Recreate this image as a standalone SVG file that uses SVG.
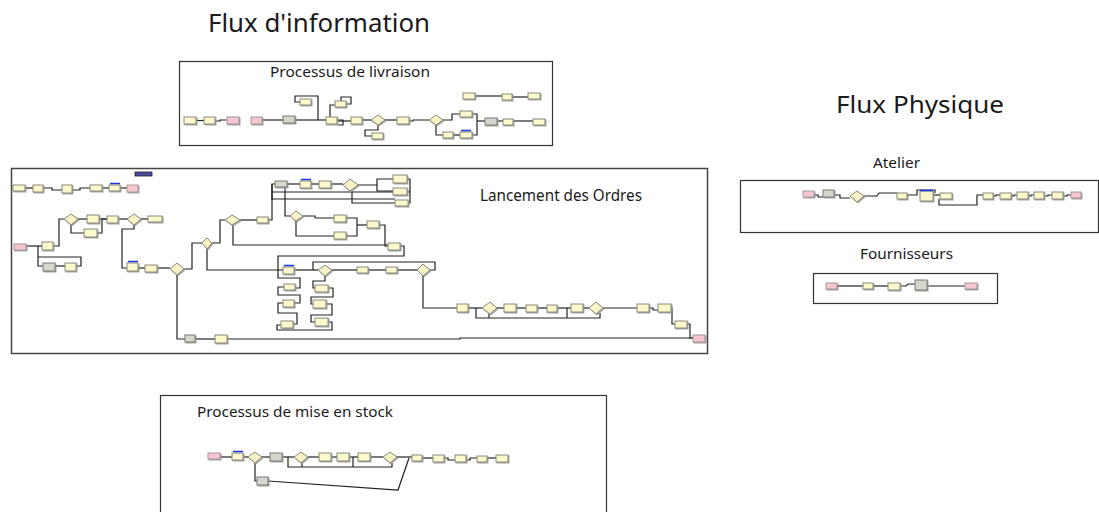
<svg xmlns="http://www.w3.org/2000/svg" width="1099" height="512" viewBox="0 0 1099 512">
<defs>
<filter id="sh" x="-30%" y="-30%" width="160%" height="160%"><feDropShadow dx="1" dy="1" stdDeviation="0.4" flood-color="#999" flood-opacity="0.9"/></filter>
</defs>
<style>
.box{fill:none;stroke:#333;stroke-width:1.2}
.n{fill:#fbf9cc;stroke:#8a8a7c;stroke-width:1;filter:url(#sh)}
.g{fill:#d6d6cc;stroke:#7a7a72;stroke-width:1;filter:url(#sh)}
.p{fill:#f7c6cf;stroke:#a09a9a;stroke-width:1;filter:url(#sh)}
.d{fill:#f7f3c6;stroke:#8a8a7c;stroke-width:1;filter:url(#sh)}
.b{stroke:#1a3adc;stroke-width:1.5}
.c path{fill:none;stroke:#222;stroke-width:1.2}
.t{font-family:"Noto Sans","Open Sans","DejaVu Sans",sans-serif;fill:#1a1a1a}
</style>
<rect width="1099" height="512" fill="#fff"/>

<g id="titles">
<text class="t" x="208" y="32" font-size="26" textLength="222" lengthAdjust="spacingAndGlyphs">Flux d'information</text>
<text class="t" x="836" y="113" font-size="24" textLength="168" lengthAdjust="spacingAndGlyphs">Flux Physique</text>
</g>

<g id="frames">
<g id="frame-livraison"><rect class="box" x="179.5" y="61.5" width="373" height="84"/><text class="t" x="270" y="77" font-size="15" textLength="160" lengthAdjust="spacingAndGlyphs">Processus de livraison</text></g>
<g id="frame-lancement"><rect class="box" x="11.5" y="168.5" width="696" height="185" style="stroke:#444;stroke-width:1.5"/><text class="t" x="480" y="201" font-size="16" textLength="162" lengthAdjust="spacingAndGlyphs">Lancement des Ordres</text></g>
<g id="frame-atelier"><rect class="box" x="740.5" y="180.5" width="358" height="52"/><text class="t" x="873" y="168" font-size="15" textLength="47" lengthAdjust="spacingAndGlyphs">Atelier</text></g>
<g id="frame-fournisseurs"><rect class="box" x="813.5" y="273.5" width="184" height="30"/><text class="t" x="860" y="259" font-size="15" textLength="93" lengthAdjust="spacingAndGlyphs">Fournisseurs</text></g>
<g id="frame-stock"><rect class="box" x="160.5" y="395.5" width="446" height="130"/><text class="t" x="197" y="417" font-size="15" textLength="196" lengthAdjust="spacingAndGlyphs">Processus de mise en stock</text></g>
</g>

<g id="connectors" class="c">
<path d="M196,120.5 H204"/>
<path d="M215,121 H220 V120 H227"/>
<path d="M262,120 H283"/>
<path d="M295,120 H326"/>
<path d="M318,120 V96 H295 V102 H300"/>
<path d="M330,117 V105 H335"/>
<path d="M346,104 H351 V97 H341 V101"/>
<path d="M337,120 H343 V125 H338"/>
<path d="M337,121 H351"/>
<path d="M362,120 H371"/>
<path d="M378,125 V130 H365 V136 H372"/>
<path d="M385,120 H397"/>
<path d="M409,121 H413 V120 H429"/>
<path d="M443,120 H452 V114 H460"/>
<path d="M472,114 H477 V135 H472"/>
<path d="M436,125 V135 H443"/>
<path d="M453,135 H460"/>
<path d="M477,121 H485"/>
<path d="M497,121 H503"/>
<path d="M513,121 H533"/>
<path d="M475,96 H502"/>
<path d="M512,97 H528"/>
<path d="M25,188 H33"/>
<path d="M43,188 H52 V190 H62"/>
<path d="M72,190 H80 V188 H90"/>
<path d="M102,188 H109"/>
<path d="M120,188 H127"/>
<path d="M26,246 H42"/>
<path d="M53,246 H59 V219 H64"/>
<path d="M78,219 H87"/>
<path d="M71,225 V233 H84"/>
<path d="M97,233 H102 V219 H107"/>
<path d="M99,219 H107"/>
<path d="M118,219 H127"/>
<path d="M141,219 H148"/>
<path d="M38,246 V266 H43"/>
<path d="M55,266 H65"/>
<path d="M76,266 H81 V257 H38"/>
<path d="M134,225 V229 H122 V268 H127"/>
<path d="M138,268 H145"/>
<path d="M157,268 H170"/>
<path d="M184,269 H192 V243 H202"/>
<path d="M212,243 H220 V220 H225"/>
<path d="M240,220 H257"/>
<path d="M268,220 H272 V184 H275"/>
<path d="M287,184 H300"/>
<path d="M311,184 H319"/>
<path d="M331,184 H343"/>
<path d="M358,185 H377 V179 H393"/>
<path d="M377,185 V191 H393"/>
<path d="M352,191 V203 H395"/>
<path d="M272,184 V200"/>
<path d="M272,192 H410"/>
<path d="M272,199 H395"/>
<path d="M407,179 H410 V203 H408"/>
<path d="M285,187 V216 H290"/>
<path d="M303,216 H315 V218 H334"/>
<path d="M296,221 V236 H334"/>
<path d="M346,218 H357 V236 H346"/>
<path d="M357,225 H367"/>
<path d="M379,225 H385 V246 H388"/>
<path d="M233,225 V245 H388"/>
<path d="M400,246 H404 V256 H278 V278 H300 V288 H295"/>
<path d="M284,287 H278 V295 H300 V303 H294"/>
<path d="M283,303 H278 V313 H297 V324 H293"/>
<path d="M281,325 H277 V330 H332 V322 H328"/>
<path d="M207,249 V270 H283"/>
<path d="M294,270 H318"/>
<path d="M332,270 H357"/>
<path d="M368,270 H386"/>
<path d="M397,270 H417"/>
<path d="M430,270 H435 V262 H313 V270"/>
<path d="M325,276 V281 H313 V288 H315"/>
<path d="M328,288 H333 V297 H311 V304 H313"/>
<path d="M326,304 H332 V315 H311 V322 H315"/>
<path d="M423,276 V308 H457"/>
<path d="M468,308 H482"/>
<path d="M497,308 H504"/>
<path d="M516,308 H526"/>
<path d="M537,308 H547"/>
<path d="M557,308 H571"/>
<path d="M583,308 H589"/>
<path d="M603,308 H637"/>
<path d="M649,308 H653 V310 H658"/>
<path d="M671,308 H672 V324 H675"/>
<path d="M687,324 H690 V338 H693"/>
<path d="M476,308 V318 H600 V313"/>
<path d="M489,314 V318"/>
<path d="M567,308 V318"/>
<path d="M177,275 V339 H185"/>
<path d="M195,339 H215"/>
<path d="M227,339 H460 V338 H693"/>
<path d="M814,195 H818 V197 H823"/>
<path d="M834,195 H840 V198 H850"/>
<path d="M864,196 H877 L879,193 H897"/>
<path d="M907,195 H917 V190 H935 V193"/>
<path d="M933,195 H940"/>
<path d="M939,199 V205 H977 V195 H983"/>
<path d="M993,196 H996 V195 H1000"/>
<path d="M1011,196 H1014 V195 H1017"/>
<path d="M1028,196 H1031 V195 H1034"/>
<path d="M1044,196 H1048 V195 H1052"/>
<path d="M1063,196 H1067 V195 H1071"/>
<path d="M837,286 H863"/>
<path d="M873,286 H888"/>
<path d="M900,286 H906 L908,284 H915"/>
<path d="M927,286 H965"/>
<path d="M220,457 H232"/>
<path d="M243,457 H248"/>
<path d="M262,457 H270"/>
<path d="M282,457 H294"/>
<path d="M308,457 H319"/>
<path d="M331,457 H337"/>
<path d="M349,457 H358"/>
<path d="M370,457 H383"/>
<path d="M397,457 H412"/>
<path d="M422,458 H433"/>
<path d="M444,458 H448 V460 H455"/>
<path d="M466,460 H470 V458 H477"/>
<path d="M487,458 H496"/>
<path d="M288,457 V467 H392 V463"/>
<path d="M302,463 V467"/>
<path d="M353,457 V467"/>
<path d="M255,463 V481 H257"/>
<path d="M268,481 L398,490 L409,458"/>
</g>

<g id="nodes-livraison">
<g id="L1"><rect class="n" x="184" y="117" width="12" height="7"/></g>
<g id="L2"><rect class="n" x="204" y="117" width="11" height="7"/></g>
<g id="L3"><rect class="p" x="227" y="117" width="12" height="7"/></g>
<g id="L4"><rect class="p" x="251" y="117" width="11" height="7"/></g>
<g id="L5"><rect class="g" x="283" y="116" width="12" height="7"/></g>
<g id="L6"><rect class="n" x="300" y="99" width="11" height="6"/></g>
<g id="L7"><rect class="n" x="326" y="117" width="11" height="7"/></g>
<g id="L8"><rect class="n" x="335" y="101" width="11" height="6"/></g>
<g id="L9"><rect class="n" x="351" y="117" width="11" height="7"/></g>
<g id="LD1"><polygon class="d" points="371,120 378,115 385,120 378,125"/></g>
<g id="L10"><rect class="n" x="372" y="133" width="11" height="6"/></g>
<g id="L11"><rect class="n" x="397" y="117" width="12" height="7"/></g>
<g id="LD2"><polygon class="d" points="429,120 436,115 443,120 436,125"/></g>
<g id="L12"><rect class="n" x="460" y="111" width="12" height="6"/></g>
<g id="L13"><rect class="n" x="443" y="132" width="10" height="6"/></g>
<g id="L14"><rect class="n" x="460" y="132" width="12" height="6"/><path class="b" d="M461,130.5 H471"/></g>
<g id="L15"><rect class="g" x="485" y="118" width="12" height="7"/></g>
<g id="L16"><rect class="n" x="503" y="119" width="10" height="6"/></g>
<g id="L17"><rect class="n" x="533" y="119" width="12" height="6"/></g>
<g id="L18"><rect class="n" x="463" y="93" width="12" height="6"/></g>
<g id="L19"><rect class="n" x="502" y="94" width="10" height="6"/></g>
<g id="L20"><rect class="n" x="528" y="93" width="12" height="6"/></g>
</g>

<g id="nodes-lancement">
<g id="bar"><rect x="135" y="172" width="17" height="4" fill="#4a4aa0" stroke="#222" stroke-width="0.8"/></g>
<g id="T1"><rect class="n" x="13" y="185" width="12" height="6"/></g>
<g id="T2"><rect class="n" x="33" y="185" width="10" height="7"/></g>
<g id="T3"><rect class="n" x="62" y="185" width="10" height="8"/></g>
<g id="T4"><rect class="n" x="90" y="185" width="12" height="6"/></g>
<g id="T5"><rect class="n" x="109" y="185" width="11" height="6"/><path class="b" d="M110,183.5 H120"/></g>
<g id="T6"><rect class="p" x="127" y="185" width="11" height="7"/></g>
<g id="P1"><rect class="p" x="14" y="244" width="12" height="6"/></g>
<g id="N1"><rect class="n" x="42" y="242" width="11" height="8"/></g>
<g id="D1"><polygon class="d" points="64,219 71,214 78,219 71,225"/></g>
<g id="N2"><rect class="n" x="87" y="215" width="12" height="8"/></g>
<g id="N3"><rect class="n" x="84" y="229" width="13" height="8"/></g>
<g id="N4"><rect class="n" x="107" y="216" width="11" height="7"/></g>
<g id="D2"><polygon class="d" points="127,219 134,214 141,219 134,225"/></g>
<g id="N5"><rect class="n" x="148" y="216" width="14" height="6"/></g>
<g id="N6"><rect class="g" x="43" y="263" width="12" height="8"/></g>
<g id="N7"><rect class="n" x="65" y="263" width="11" height="8"/></g>
<g id="N8"><rect class="n" x="127" y="263" width="11" height="8"/><path class="b" d="M128,261.5 H138"/></g>
<g id="N9"><rect class="n" x="145" y="265" width="12" height="7"/></g>
<g id="D3"><polygon class="d" points="170,269 177,263 184,269 177,275"/></g>
<g id="D4"><polygon class="d" points="202,243 207,238 212,243 207,249"/></g>
<g id="D5"><polygon class="d" points="225,220 232,215 240,220 232,225"/></g>
<g id="N10"><rect class="n" x="257" y="217" width="11" height="6"/></g>
<g id="N11"><rect class="g" x="275" y="181" width="12" height="6"/></g>
<g id="N12"><rect class="n" x="300" y="181" width="11" height="7"/><path class="b" d="M301,179.5 H311"/></g>
<g id="N13"><rect class="n" x="319" y="181" width="12" height="7"/></g>
<g id="D6"><polygon class="d" points="343,185 350,179 358,185 350,191"/></g>
<g id="N14"><rect class="n" x="393" y="175" width="14" height="8"/></g>
<g id="N15"><rect class="n" x="393" y="188" width="14" height="7"/></g>
<g id="N16"><rect class="n" x="395" y="200" width="13" height="6"/></g>
<g id="D7"><polygon class="d" points="290,216 296,211 303,216 296,221"/></g>
<g id="N17"><rect class="n" x="334" y="215" width="12" height="7"/></g>
<g id="N18"><rect class="n" x="334" y="232" width="12" height="7"/></g>
<g id="N19"><rect class="n" x="367" y="221" width="12" height="7"/></g>
<g id="N20"><rect class="n" x="388" y="243" width="12" height="7"/></g>
<g id="N21"><rect class="n" x="283" y="267" width="11" height="7"/><path class="b" d="M284,265.5 H294"/></g>
<g id="D8"><polygon class="d" points="318,270 325,265 332,270 325,276"/></g>
<g id="N22"><rect class="n" x="357" y="267" width="11" height="6"/></g>
<g id="N23"><rect class="n" x="386" y="267" width="11" height="6"/></g>
<g id="D9"><polygon class="d" points="417,270 423,264 430,270 423,276"/></g>
<g id="N24"><rect class="n" x="284" y="284" width="11" height="6"/></g>
<g id="N25"><rect class="n" x="283" y="300" width="11" height="7"/></g>
<g id="N26"><rect class="n" x="281" y="321" width="12" height="7"/></g>
<g id="N27"><rect class="n" x="315" y="285" width="13" height="7"/></g>
<g id="N28"><rect class="n" x="313" y="300" width="13" height="8"/></g>
<g id="N29"><rect class="n" x="315" y="318" width="13" height="8"/></g>
<g id="N30"><rect class="n" x="457" y="304" width="11" height="8"/></g>
<g id="D10"><polygon class="d" points="482,308 490,302 497,308 490,314"/></g>
<g id="N31"><rect class="n" x="504" y="304" width="12" height="8"/></g>
<g id="N32"><rect class="n" x="526" y="305" width="11" height="7"/></g>
<g id="N33"><rect class="n" x="547" y="305" width="10" height="7"/></g>
<g id="N34"><rect class="n" x="571" y="304" width="12" height="8"/></g>
<g id="D11"><polygon class="d" points="589,308 596,302 603,308 596,314"/></g>
<g id="N35"><rect class="n" x="637" y="304" width="12" height="8"/></g>
<g id="N36"><rect class="n" x="658" y="304" width="13" height="8"/></g>
<g id="N37"><rect class="n" x="675" y="321" width="12" height="7"/></g>
<g id="P2"><rect class="p" x="693" y="335" width="12" height="7"/></g>
<g id="N38"><rect class="g" x="185" y="335" width="10" height="7"/></g>
<g id="N39"><rect class="n" x="215" y="335" width="12" height="8"/></g>
</g>

<g id="nodes-atelier">
<g id="A1"><rect class="p" x="803" y="191" width="11" height="6"/></g>
<g id="A2"><rect class="g" x="823" y="190" width="11" height="7"/></g>
<g id="AD1"><polygon class="d" points="850,196 857,191 864,196 857,202"/></g>
<g id="A3"><rect class="n" x="897" y="193" width="10" height="6"/></g>
<g id="A4"><rect class="n" x="920" y="191" width="13" height="10"/><path class="b" d="M920,190.5 H933"/></g>
<g id="A5"><rect class="n" x="940" y="193" width="12" height="6"/></g>
<g id="A6"><rect class="n" x="983" y="193" width="10" height="6"/></g>
<g id="A7"><rect class="n" x="1000" y="193" width="11" height="6"/></g>
<g id="A8"><rect class="n" x="1017" y="192" width="11" height="7"/></g>
<g id="A9"><rect class="n" x="1034" y="192" width="10" height="7"/></g>
<g id="A10"><rect class="n" x="1052" y="192" width="11" height="7"/></g>
<g id="A11"><rect class="p" x="1071" y="192" width="10" height="6"/></g>
</g>

<g id="nodes-fournisseurs">
<g id="F1"><rect class="p" x="826" y="283" width="11" height="6"/></g>
<g id="F2"><rect class="n" x="863" y="283" width="10" height="6"/></g>
<g id="F3"><rect class="n" x="888" y="283" width="12" height="7"/></g>
<g id="F4"><rect class="g" x="915" y="280" width="12" height="10"/></g>
<g id="F5"><rect class="p" x="965" y="283" width="12" height="6"/></g>
</g>

<g id="nodes-stock">
<g id="S1"><rect class="p" x="208" y="453" width="12" height="6"/></g>
<g id="S2"><rect class="n" x="232" y="453" width="11" height="7"/><path class="b" d="M233,451.5 H243"/></g>
<g id="SD1"><polygon class="d" points="248,457 255,452 262,457 255,463"/></g>
<g id="S3"><rect class="g" x="270" y="453" width="12" height="8"/></g>
<g id="SD2"><polygon class="d" points="294,457 301,452 308,457 301,463"/></g>
<g id="S4"><rect class="n" x="319" y="453" width="12" height="8"/></g>
<g id="S5"><rect class="n" x="337" y="453" width="12" height="8"/></g>
<g id="S6"><rect class="n" x="358" y="453" width="12" height="8"/></g>
<g id="SD3"><polygon class="d" points="383,457 390,452 397,457 390,463"/></g>
<g id="S7"><rect class="g" x="257" y="477" width="11" height="8"/></g>
<g id="S8"><rect class="n" x="412" y="455" width="10" height="6"/></g>
<g id="S9"><rect class="n" x="433" y="455" width="11" height="7"/></g>
<g id="S10"><rect class="n" x="455" y="455" width="11" height="7"/></g>
<g id="S11"><rect class="n" x="477" y="456" width="10" height="6"/></g>
<g id="S12"><rect class="n" x="496" y="455" width="12" height="7"/></g>
</g>
</svg>
